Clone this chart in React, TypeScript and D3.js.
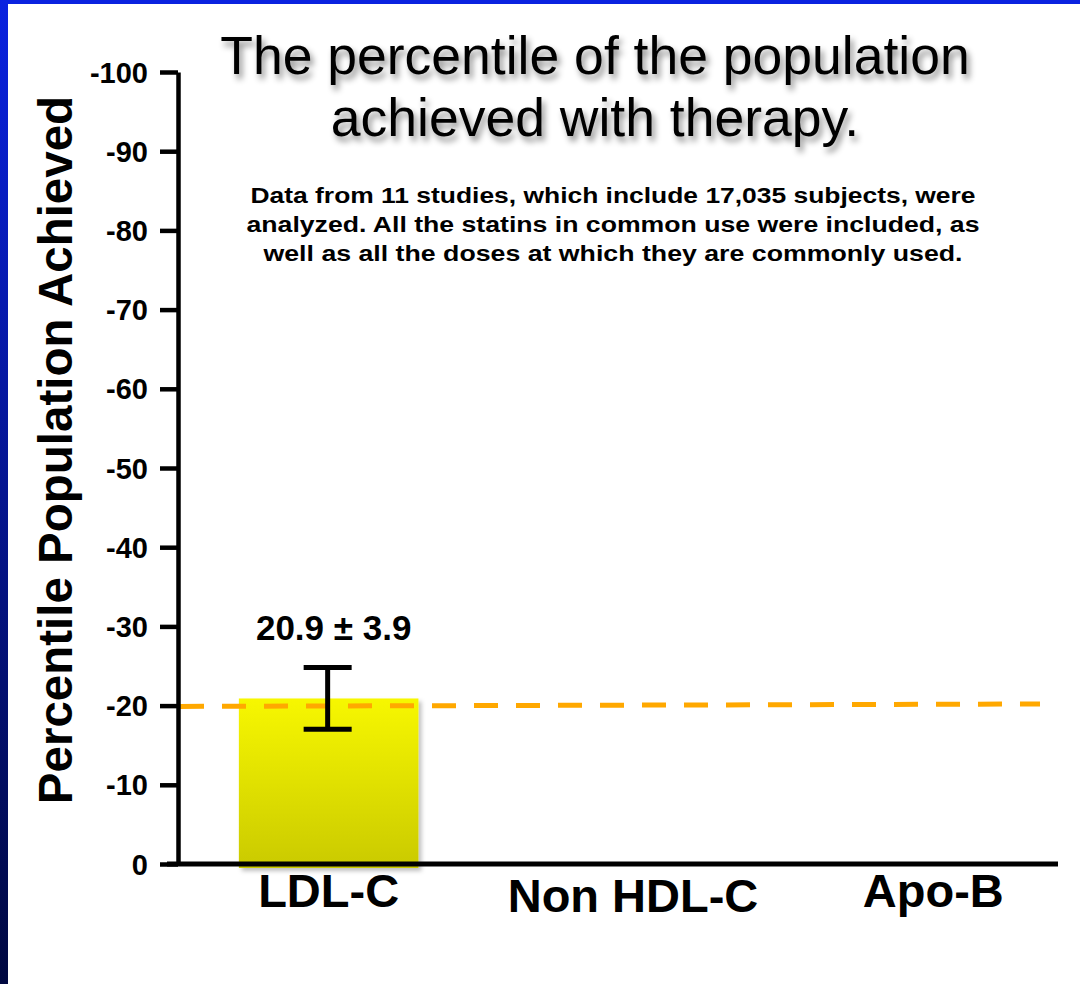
import * as d3 from 'd3';
import { useEffect, useRef } from 'react';

// values
const categories = ['LDL-C', 'Non HDL-C', 'Apo-B'];
const barCategories = ['LDL-C'];
const barMeans = [20.9];
const barErrors = [3.9];
const yTicks = [0, 10, 20, 30, 40, 50, 60, 70, 80, 90, 100];
// orange reference line: value at the y axis and at its right end
const refLine = [19.9, 20.2];

const titleLines = ['The percentile of the population', 'achieved with therapy.'];
const noteLines = [
    'Data from 11 studies, which include 17,035 subjects, were',
    'analyzed. All the statins in common use were included, as',
    'well as all the doses at which they are commonly used.'
];
// the slide's note text is set wide; target widths per line
const noteWidths = [725, 733, 699];

const W = 1080;
const H = 984;
const FONT = 'Arial, "Liberation Sans", Helvetica, sans-serif';

const PercentileChart: React.FC = () => {
    const ref = useRef<SVGSVGElement | null>(null);

    useEffect(() => {
        if (!ref.current) return;
        const svg = d3.select(ref.current);
        svg.selectAll('*').remove();

        const defs = svg.append('defs');
        const side = defs.append('linearGradient').attr('id', 'side').attr('x1', 0).attr('y1', 0).attr('x2', 0).attr('y2', 1);
        side.append('stop').attr('offset', '0%').attr('stop-color', '#0a22e0');
        side.append('stop').attr('offset', '100%').attr('stop-color', '#000840');
        const barGrad = defs.append('linearGradient').attr('id', 'barGrad').attr('x1', 0).attr('y1', 0).attr('x2', 0).attr('y2', 1);
        barGrad.append('stop').attr('offset', '0%').attr('stop-color', '#f7f700');
        barGrad.append('stop').attr('offset', '100%').attr('stop-color', '#caca00');
        defs.append('filter').attr('id', 'titleShadow').attr('x', '-10%').attr('y', '-30%').attr('width', '120%').attr('height', '160%')
            .append('feDropShadow').attr('dx', 3).attr('dy', 5).attr('stdDeviation', 3)
            .attr('flood-color', '#000').attr('flood-opacity', 0.45);
        defs.append('filter').attr('id', 'barShadow').attr('x', '-10%').attr('y', '-10%').attr('width', '125%').attr('height', '125%')
            .append('feDropShadow').attr('dx', 3).attr('dy', 3).attr('stdDeviation', 2)
            .attr('flood-color', '#000').attr('flood-opacity', 0.25);

        // slide background and blue frame
        svg.append('rect').attr('width', W).attr('height', H).attr('fill', '#fff');
        svg.append('rect').attr('width', W).attr('height', 4).attr('fill', '#0a22e0');
        svg.append('rect').attr('width', 8).attr('height', H).attr('fill', 'url(#side)');

        const x = d3.scaleBand().domain(categories).range([178, 1088]).paddingInner(0.41).paddingOuter(0.2);
        const y = d3.scaleLinear().domain([0, 100]).range([864, 72]);
        const xEnd = 1058;

        // bar
        svg.selectAll('.bar')
            .data(barCategories)
            .enter().append('rect')
            .attr('class', 'bar')
            .attr('x', d => x(d)!)
            .attr('width', x.bandwidth())
            .attr('y', (_d, i) => y(barMeans[i]))
            .attr('height', (_d, i) => y(0) - y(barMeans[i]) + 4)
            .attr('fill', 'url(#barGrad)')
            .attr('filter', 'url(#barShadow)');

        // reference line
        svg.append('line')
            .attr('x1', 180).attr('x2', 1040)
            .attr('y1', y(refLine[0])).attr('y2', y(refLine[1]))
            .attr('stroke', '#ffa800')
            .attr('stroke-width', 5)
            .attr('stroke-dasharray', '24 18');

        // error bar
        barCategories.forEach((c, i) => {
            const cx = x(c)! + x.bandwidth() / 2 - 1;
            const hi = y(barMeans[i] + barErrors[i]);
            const lo = y(barMeans[i] - barErrors[i]);
            const g = svg.append('g').attr('stroke', '#000').attr('stroke-width', 5);
            g.append('line').attr('x1', cx).attr('x2', cx).attr('y1', hi).attr('y2', lo);
            g.append('line').attr('x1', cx - 24).attr('x2', cx + 24).attr('y1', hi).attr('y2', hi);
            g.append('line').attr('x1', cx - 24).attr('x2', cx + 24).attr('y1', lo).attr('y2', lo);
            svg.append('text')
                .attr('x', cx + 6).attr('y', hi - 28)
                .attr('text-anchor', 'middle')
                .attr('font-family', FONT).attr('font-weight', 'bold').attr('font-size', 35)
                .text(`${barMeans[i]} \u00b1 ${barErrors[i]}`);
        });

        // y axis
        const yAxis = svg.append('g')
            .attr('transform', 'translate(178,0)')
            .call(d3.axisLeft(y).tickValues(yTicks).tickSize(18).tickSizeOuter(0).tickPadding(12)
                .tickFormat(d => (+d === 0 ? '0' : `-${d}`)));
        yAxis.select('.domain').attr('stroke', '#000').attr('stroke-width', 4.5);
        yAxis.selectAll('.tick line').attr('stroke', '#000').attr('stroke-width', 4.5);
        yAxis.selectAll('.tick text')
            .attr('font-family', FONT).attr('font-weight', 'bold').attr('font-size', 29).attr('fill', '#000')
            .attr('dy', '0.35em');

        // x axis
        svg.append('line')
            .attr('x1', 167).attr('x2', xEnd)
            .attr('y1', y(0)).attr('y2', y(0))
            .attr('stroke', '#000').attr('stroke-width', 5);
        svg.selectAll('.cat')
            .data(categories)
            .enter().append('text')
            .attr('class', 'cat')
            .attr('x', (d, i) => x(d)! + x.bandwidth() / 2 + (i === 2 ? -4 : 0))
            .attr('y', (_d, i) => 907 + (i === 1 ? 5 : 0))
            .attr('text-anchor', 'middle')
            .attr('font-family', FONT).attr('font-weight', 'bold').attr('font-size', 47)
            .text(d => d);

        // y axis title
        svg.append('text')
            .attr('transform', 'translate(72,450) rotate(-90)')
            .attr('text-anchor', 'middle')
            .attr('font-family', FONT).attr('font-weight', 'bold').attr('font-size', 47.5)
            .text('Percentile Population Achieved');

        // title
        svg.append('g').attr('filter', 'url(#titleShadow)')
            .selectAll('text')
            .data(titleLines)
            .enter().append('text')
            .attr('x', 595)
            .attr('y', (_d, i) => 74 + i * 62)
            .attr('text-anchor', 'middle')
            .attr('font-family', FONT).attr('font-size', 53.5)
            .text(d => d);

        // note
        svg.selectAll('.note')
            .data(noteLines)
            .enter().append('text')
            .attr('class', 'note')
            .attr('x', 613)
            .attr('y', (_d, i) => 203 + i * 29)
            .attr('text-anchor', 'middle')
            .attr('font-family', FONT).attr('font-weight', 'bold').attr('font-size', 22.5)
            .attr('textLength', (_d, i) => noteWidths[i])
            .attr('lengthAdjust', 'spacingAndGlyphs')
            .text(d => d);
    }, []);

    return <svg ref={ref} width={W} height={H} style={{ position: 'absolute', left: 0, top: 0, display: 'block' }} />;
};

export default function App() {
    return <PercentileChart />;
}
